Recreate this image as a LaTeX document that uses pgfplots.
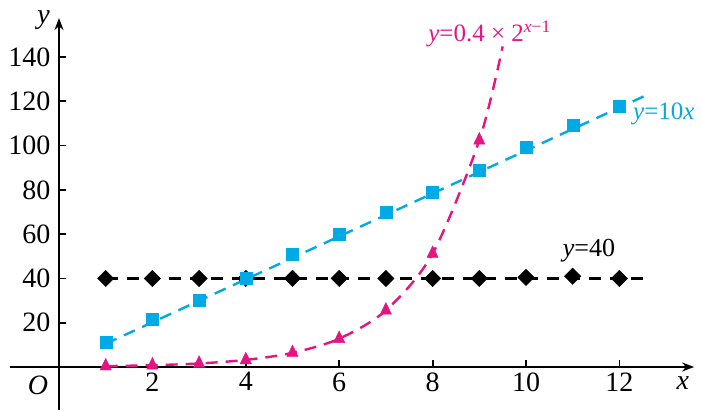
\documentclass[border=0pt]{standalone}
\usepackage{pgfplots}
\pgfplotsset{compat=1.18}
\usetikzlibrary{arrows.meta}
\usepackage{fontspec}
\setmainfont{Liberation Serif}
\definecolor{cy}{RGB}{0,170,228}
\definecolor{mg}{RGB}{228,20,128}
\begin{document}
\begin{tikzpicture}
\path[use as bounding box] (0,0) rectangle (701pt,412pt);
\begin{axis}[
  at={(59pt,45pt)}, anchor=origin,
  x=46.7pt, y=2.214pt,
  xmin=-1.05, xmax=13.6, ymin=-19.5, ymax=157.6,
  axis lines=middle,
  axis line style={line width=2pt,-{Stealth[length=12pt,width=9pt]}},
  tick align=inside,
  major tick length=7pt,
  tick style={line width=1.8pt,black},
  xtick={2,4,6,8,10,12},
  ytick={20,40,60,80,100,120,140},
  /pgf/number format/assume math mode=true,
  tick label style={font=\fontsize{28}{30}\selectfont},
  xticklabel style={yshift=-2pt},
  yticklabel style={xshift=-5pt},
  clip=false,
]
\addplot[black, line width=2.2pt, dash pattern=on 12pt off 9pt] coordinates {(1,40) (12.5,40)};
\addplot[black, only marks, mark=square*, mark size=5.8pt, mark options={rotate=45}] coordinates {
(1,40) (2,40) (3,40) (4,40) (5,40) (6,40) (7,40) (8,40) (9,40) (10,40.5) (11,41) (12,40)};
\addplot[cy, line width=2.4pt, dash pattern=on 12pt off 8pt] coordinates {(1,10.5) (12.6,123)};
\addplot[cy, only marks, mark=square*, mark size=6pt] coordinates {
(1,11) (2,21.5) (3,30) (4,40) (5,51) (6,60) (7,70) (8,79) (9,89) (10,99.5) (11,109) (12,118)};
\addplot[mg, line width=2.4pt, dash pattern=on 12pt off 8pt, smooth] coordinates {
(1,0.4) (2,0.8) (3,1.6) (4,3.2) (5,6.4) (6,12.8) (7,25.6) (8,51.2) (9,102.4) (9.5,144.8)};
\addplot[mg, only marks, mark=triangle*, mark size=6.5pt, mark options={yscale=1.2}] coordinates {
(1,0.4) (2,0.8) (3,1.6) (4,3.2) (5,6.4) (6,12.8) (7,25.6) (8,51.2) (9,102.4)};
\node[font=\fontsize{28}{30}\selectfont\itshape] at (axis cs:13.36,-7.2) {x};
\node[font=\fontsize{28}{30}\selectfont\itshape] at (axis cs:-0.33,156.5) {y};
\node[font=\fontsize{28}{30}\selectfont\itshape] at (axis cs:-0.45,-8.5) {O};
\node[mg, font=\fontsize{25}{30}\selectfont] at (axis cs:9.22,150.5) {\textit{y}=0.4 × 2\textsuperscript{\textit{x}−1}};
\node[cy, font=\fontsize{25}{30}\selectfont, anchor=west] at (axis cs:12.22,114.5) {\textit{y}=10\textit{x}};
\node[black, font=\fontsize{26}{30}\selectfont] at (axis cs:11.35,52.5) {\textit{y}=40};
\end{axis}
\end{tikzpicture}
\end{document}
